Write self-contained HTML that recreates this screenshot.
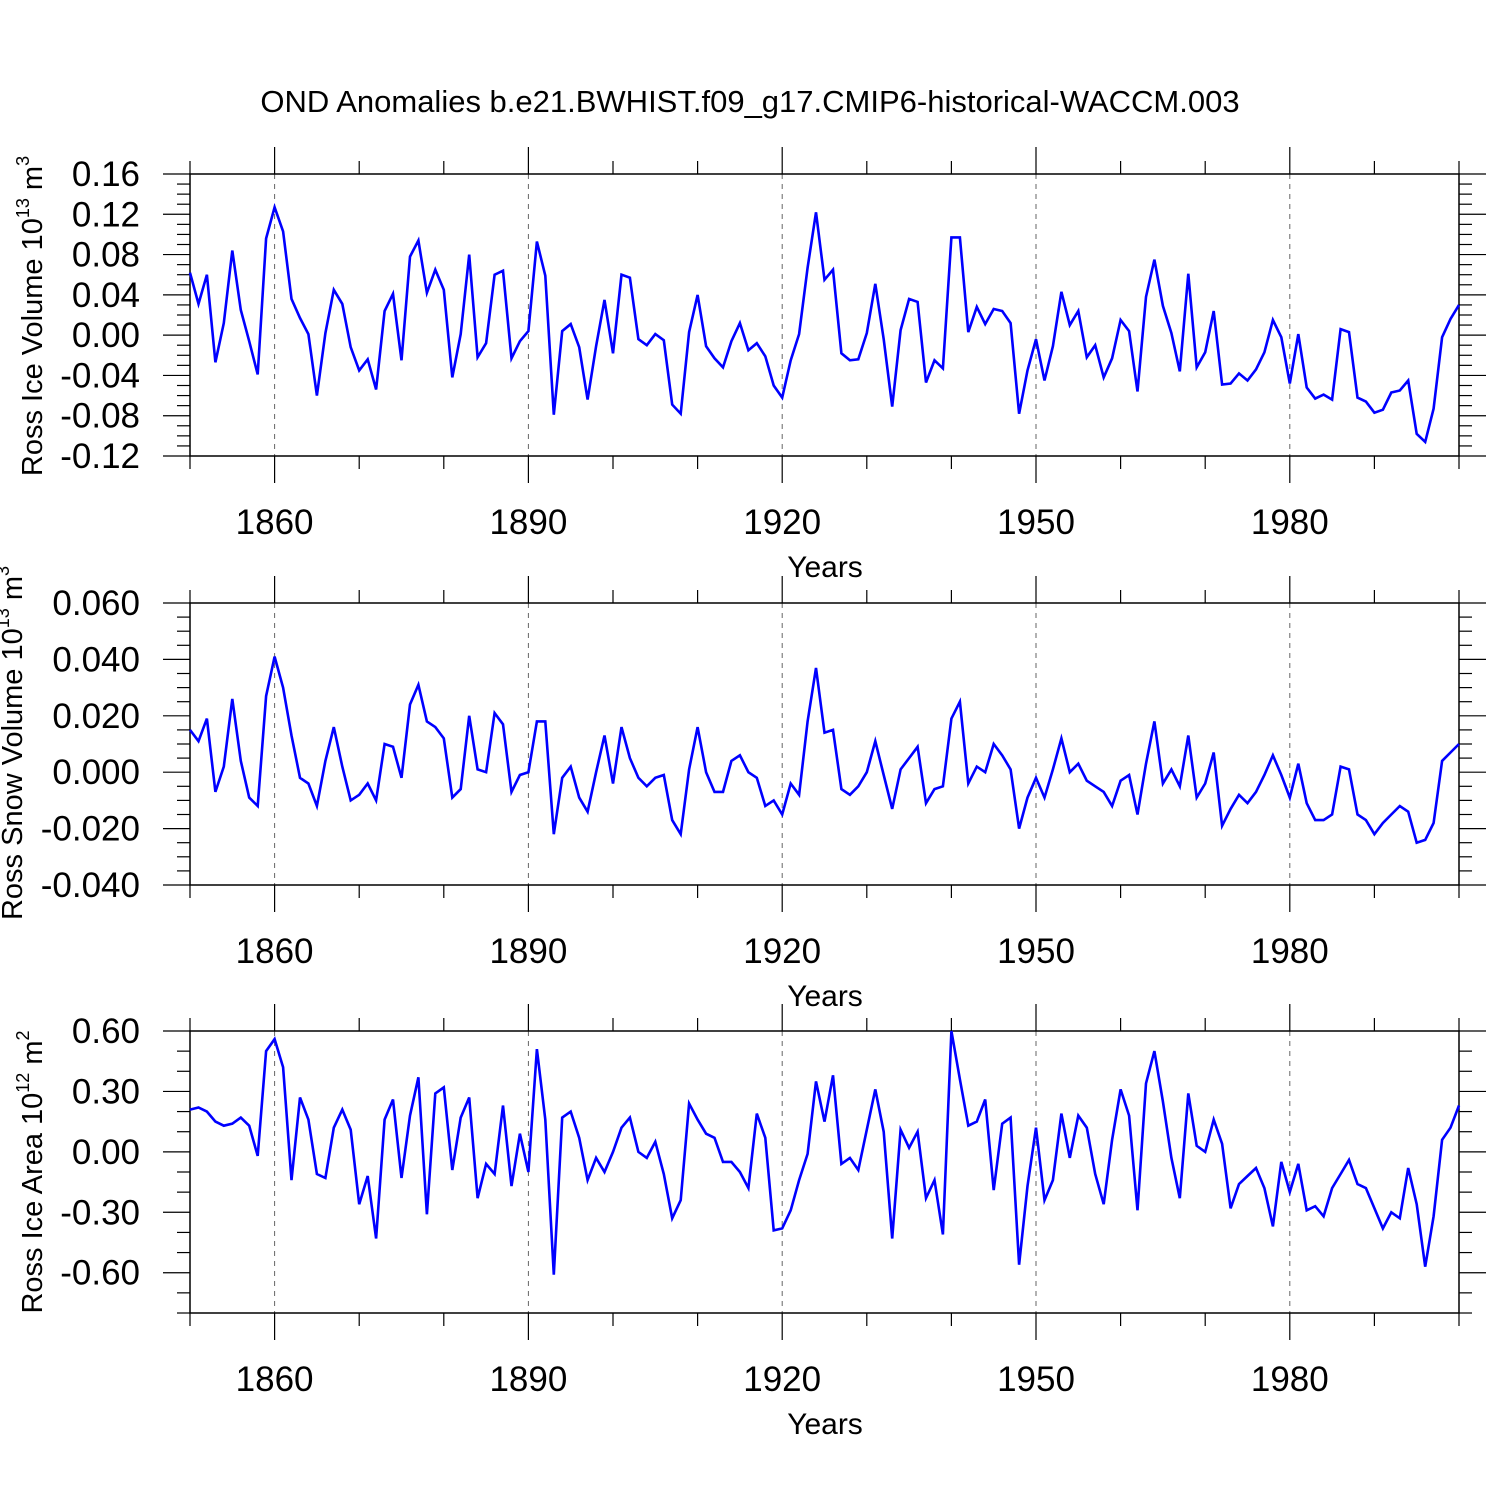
<!DOCTYPE html>
<html><head><meta charset="utf-8"><style>
html,body{margin:0;padding:0;background:#fff;}
svg{display:block;font-family:"Liberation Sans",sans-serif;}
</style></head><body>
<svg id="chart" width="1500" height="1500" viewBox="0 0 1500 1500" xmlns="http://www.w3.org/2000/svg">
<rect width="1500" height="1500" fill="#fff"/>
<text x="750" y="112" font-size="31" text-anchor="middle">OND Anomalies b.e21.BWHIST.f09_g17.CMIP6-historical-WACCM.003</text>
</svg>
<script>
const years = [];
for (let y = 1850; y <= 2000; y++) years.push(y);
const iceVolume = [0.062,0.031,0.060,-0.027,0.012,0.084,0.025,-0.006,-0.039,0.096,0.127,0.103,0.036,0.017,0.001,-0.060,0.002,0.045,0.031,-0.012,-0.035,-0.024,-0.054,0.024,0.041,-0.025,0.078,0.094,0.042,0.065,0.045,-0.042,0.001,0.080,-0.022,-0.008,0.060,0.064,-0.023,-0.006,0.004,0.093,0.059,-0.079,0.004,0.011,-0.012,-0.064,-0.011,0.035,-0.018,0.060,0.057,-0.004,-0.010,0.001,-0.005,-0.069,-0.078,0.003,0.040,-0.011,-0.023,-0.032,-0.006,0.012,-0.015,-0.008,-0.021,-0.050,-0.062,-0.025,0.001,0.067,0.122,0.055,0.065,-0.018,-0.025,-0.024,0.002,0.051,-0.004,-0.071,0.005,0.036,0.033,-0.047,-0.025,-0.033,0.097,0.097,0.003,0.028,0.011,0.026,0.024,0.012,-0.078,-0.035,-0.004,-0.045,-0.011,0.043,0.010,0.024,-0.022,-0.010,-0.042,-0.023,0.015,0.004,-0.056,0.038,0.075,0.029,0.002,-0.036,0.061,-0.032,-0.017,0.024,-0.049,-0.048,-0.038,-0.045,-0.034,-0.017,0.015,-0.002,-0.048,0.001,-0.052,-0.063,-0.059,-0.064,0.006,0.003,-0.062,-0.066,-0.077,-0.074,-0.057,-0.055,-0.045,-0.098,-0.106,-0.073,-0.002,0.016,0.030];
const snowVolume = [0.015,0.011,0.019,-0.007,0.002,0.026,0.004,-0.009,-0.012,0.027,0.041,0.030,0.013,-0.002,-0.004,-0.012,0.004,0.016,0.002,-0.010,-0.008,-0.004,-0.010,0.010,0.009,-0.002,0.024,0.031,0.018,0.016,0.012,-0.009,-0.006,0.020,0.001,0.000,0.021,0.017,-0.007,-0.001,0.000,0.018,0.018,-0.022,-0.002,0.002,-0.009,-0.014,0.000,0.013,-0.004,0.016,0.005,-0.002,-0.005,-0.002,-0.001,-0.017,-0.022,0.001,0.016,0.000,-0.007,-0.007,0.004,0.006,0.000,-0.002,-0.012,-0.010,-0.015,-0.004,-0.008,0.018,0.037,0.014,0.015,-0.006,-0.008,-0.005,0.000,0.011,-0.001,-0.013,0.001,0.005,0.009,-0.011,-0.006,-0.005,0.019,0.025,-0.004,0.002,0.000,0.010,0.006,0.001,-0.020,-0.009,-0.002,-0.009,0.001,0.012,0.000,0.003,-0.003,-0.005,-0.007,-0.012,-0.003,-0.001,-0.015,0.003,0.018,-0.004,0.001,-0.005,0.013,-0.009,-0.004,0.007,-0.019,-0.013,-0.008,-0.011,-0.007,-0.001,0.006,-0.001,-0.009,0.003,-0.011,-0.017,-0.017,-0.015,0.002,0.001,-0.015,-0.017,-0.022,-0.018,-0.015,-0.012,-0.014,-0.025,-0.024,-0.018,0.004,0.007,0.010];
const iceArea = [0.21,0.22,0.20,0.15,0.13,0.14,0.17,0.13,-0.02,0.50,0.56,0.42,-0.14,0.27,0.16,-0.11,-0.13,0.12,0.21,0.11,-0.26,-0.12,-0.43,0.16,0.26,-0.13,0.18,0.37,-0.31,0.29,0.32,-0.09,0.17,0.27,-0.23,-0.06,-0.11,0.23,-0.17,0.09,-0.10,0.51,0.16,-0.61,0.17,0.20,0.07,-0.14,-0.03,-0.10,0.00,0.12,0.17,0.00,-0.03,0.05,-0.11,-0.33,-0.24,0.24,0.16,0.09,0.07,-0.05,-0.05,-0.10,-0.18,0.19,0.07,-0.39,-0.38,-0.29,-0.14,-0.01,0.35,0.15,0.38,-0.06,-0.03,-0.09,0.11,0.31,0.10,-0.43,0.11,0.02,0.10,-0.23,-0.14,-0.41,0.60,0.36,0.13,0.15,0.26,-0.19,0.14,0.17,-0.56,-0.17,0.12,-0.24,-0.14,0.19,-0.03,0.18,0.12,-0.11,-0.26,0.06,0.31,0.18,-0.29,0.34,0.50,0.25,-0.03,-0.23,0.29,0.03,0.00,0.16,0.04,-0.28,-0.16,-0.12,-0.08,-0.18,-0.37,-0.05,-0.20,-0.06,-0.29,-0.27,-0.32,-0.18,-0.11,-0.04,-0.16,-0.18,-0.28,-0.38,-0.30,-0.33,-0.08,-0.26,-0.57,-0.32,0.06,0.12,0.23];
const xTickYears = [1860,1890,1920,1950,1980];
const panel1Ticks = ["0.16","0.12","0.08","0.04","0.00","-0.04","-0.08","-0.12"];
const panel2Ticks = ["0.060","0.040","0.020","0.000","-0.020","-0.040"];
const panel3Ticks = ["0.60","0.30","0.00","-0.30","-0.60"];

const NS = "http://www.w3.org/2000/svg";
const svg = document.getElementById('chart');
const X0 = 190, X1 = 1459;
function xScale(yr){ return X0 + (yr - 1850) / 150 * (X1 - X0); }
function mk(tag, attrs, parent){
  const e = document.createElementNS(NS, tag);
  for (const k in attrs) e.setAttribute(k, attrs[k]);
  (parent || svg).appendChild(e);
  return e;
}

function panel(opts){
  const g = mk('g', {});
  
  
  const top = opts.top, bot = opts.top + 282;
  const yScale = v => top + (opts.max - v) / (opts.max - opts.min) * (bot - top);
  xTickYears.forEach(yr => {
    const l = mk('line', {x1: xScale(yr), x2: xScale(yr), y1: top, y2: bot, stroke: '#666', 'stroke-width': 1, 'stroke-dasharray': '5,5'}, g);
    
    
  });
  for (let yr = 1850; yr <= 2000; yr += 10) {
    const major = xTickYears.includes(yr);
    const len = major ? 27 : 13;
    mk('line', {x1: xScale(yr), x2: xScale(yr), y1: bot, y2: bot + len, stroke: '#000', 'stroke-width': 1.2}, g);
    mk('line', {x1: xScale(yr), x2: xScale(yr), y1: top, y2: top - len, stroke: '#000', 'stroke-width': 1.2}, g);
  }
  xTickYears.forEach(yr => {
    const t = mk('text', {x: xScale(yr), y: bot + 78, 'font-size': 35, 'text-anchor': 'middle'}, g);
    t.textContent = yr;
    
    
  });
  const nMinor = Math.round((opts.max - opts.min) / opts.minor);
  for (let i = 0; i <= nMinor; i++) {
    const v = opts.max - i * opts.minor;
    const isMajor = opts.ticks.some(s => Math.abs(parseFloat(s) - v) < opts.minor / 10);
    const len = isMajor ? 27 : 13;
    const y = yScale(v);
    mk('line', {x1: X0, x2: X0 - len, y1: y, y2: y, stroke: '#000', 'stroke-width': 1.2}, g);
    mk('line', {x1: X1, x2: X1 + len, y1: y, y2: y, stroke: '#000', 'stroke-width': 1.2}, g);
  }
  opts.ticks.forEach(s => {
    const t = mk('text', {x: 140, y: yScale(parseFloat(s)) + 12, 'font-size': 35, 'text-anchor': 'end'}, g);
    t.textContent = s;
    
    
  });
  const fr = mk('rect', {x: X0, y: top, width: X1 - X0, height: bot - top, fill: 'none', stroke: '#000', 'stroke-width': 1.5}, g);
  
  
  const pts = opts.data.map((v, i) => xScale(years[i]).toFixed(1) + ',' + yScale(v).toFixed(1)).join(' ');
  const pl = mk('polyline', {points: pts, fill: 'none', stroke: '#0000ff', 'stroke-width': 2.6, 'stroke-linejoin': 'miter'}, g);
  
  
  const xt = mk('text', {x: 825, y: bot + 121, 'font-size': 30, 'text-anchor': 'middle'}, g);
  xt.textContent = 'Years';
  
  
  const yt = mk('text', {x: 0, y: 0, 'font-size': 29, 'text-anchor': 'middle', transform: 'translate(' + opts.ytx + ',' + opts.yty + ') rotate(-90)'}, g);
  
  
  yt.appendChild(document.createTextNode(opts.ylabel + ' 10'));
  const s1 = mk('tspan', {'font-size': 18, dy: -13}, yt); s1.textContent = opts.exp;
  const s2 = mk('tspan', {dy: 13}, yt); s2.textContent = ' m';
  const s3 = mk('tspan', {'font-size': 18, dy: -13}, yt); s3.textContent = opts.pow;
}

panel({name: 'ice-volume-panel', top: 174, max: 0.16, min: -0.12, minor: 0.01, ticks: panel1Ticks, data: iceVolume, ylabel: 'Ross Ice Volume', exp: '13', pow: '3', ytx: 42, yty: 316});
panel({name: 'snow-volume-panel', top: 603, max: 0.06, min: -0.04, minor: 0.005, ticks: panel2Ticks, data: snowVolume, ylabel: 'Ross Snow Volume', exp: '13', pow: '3', ytx: 22, yty: 743});
panel({name: 'ice-area-panel', top: 1031, max: 0.6, min: -0.8, minor: 0.1, ticks: panel3Ticks, data: iceArea, ylabel: 'Ross Ice Area', exp: '12', pow: '2', ytx: 42, yty: 1172});
</script>
</body></html>
